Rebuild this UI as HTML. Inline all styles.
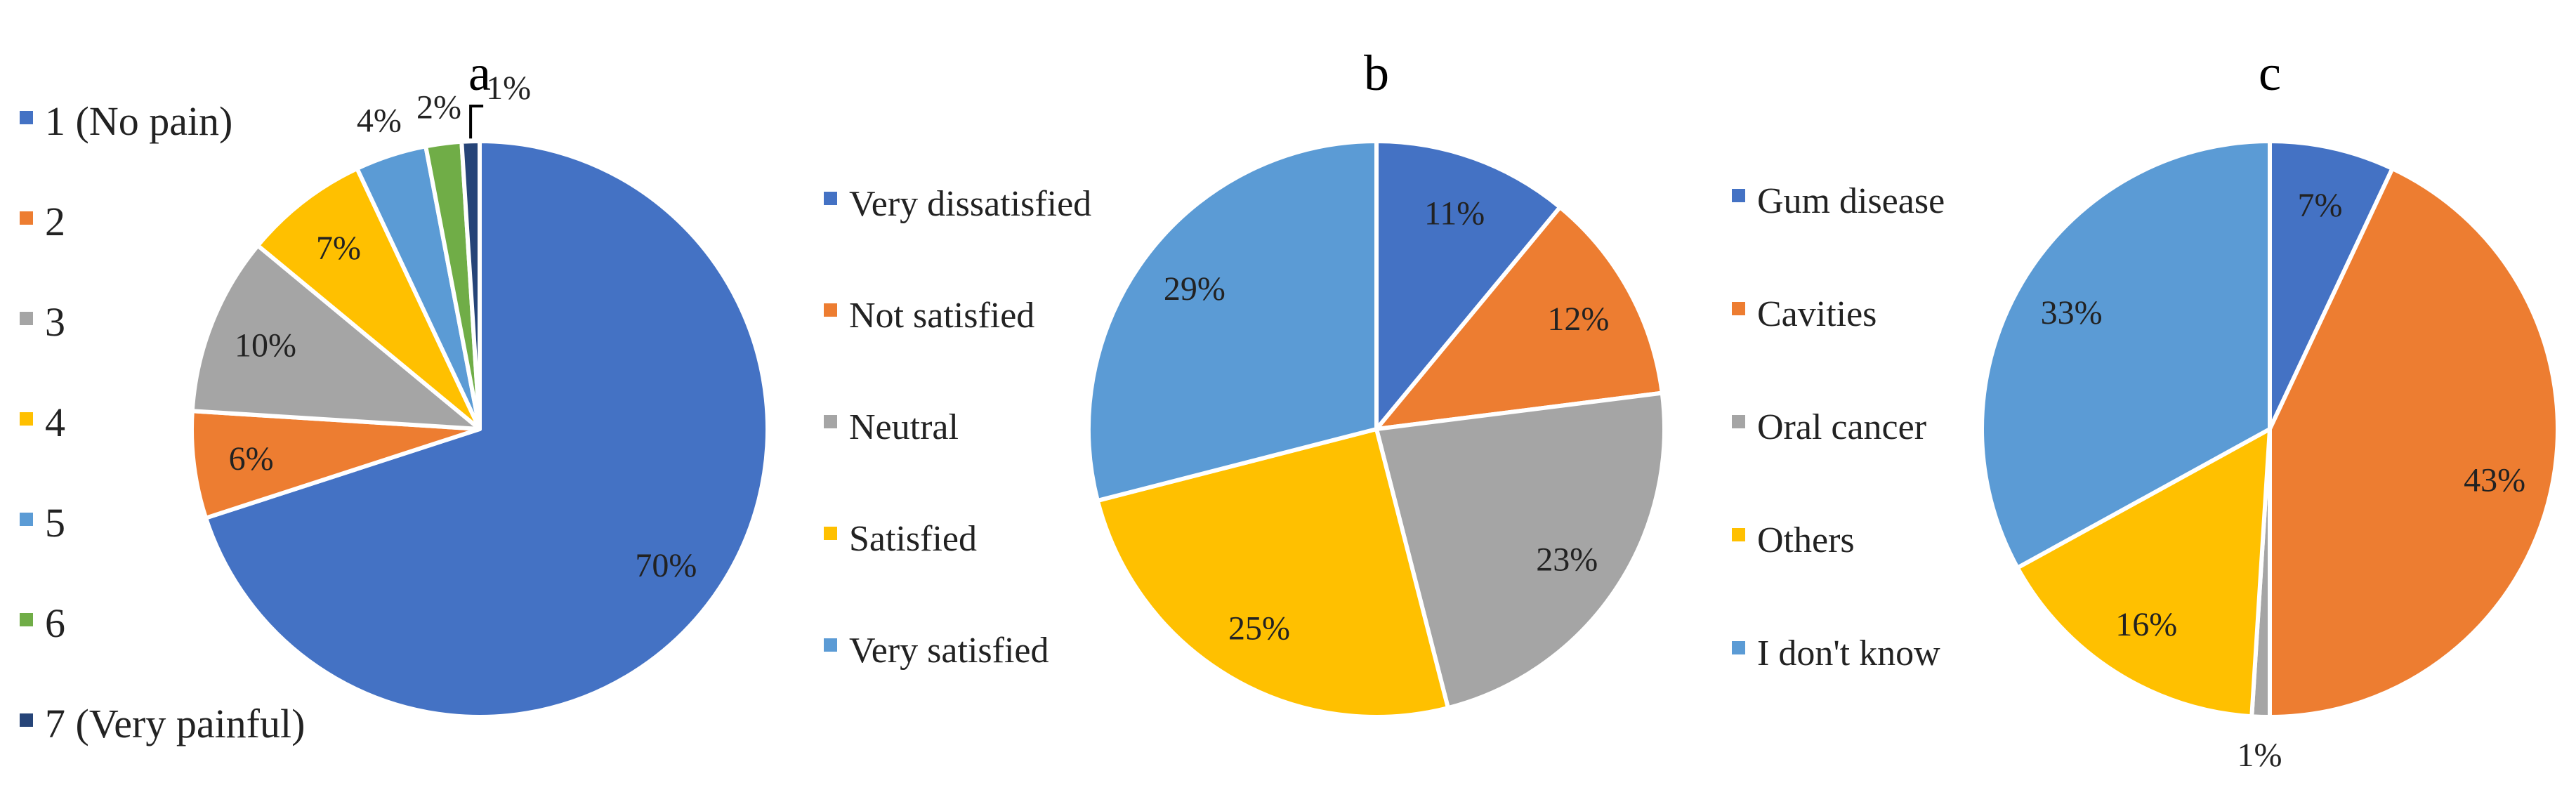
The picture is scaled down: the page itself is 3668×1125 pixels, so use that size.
<!DOCTYPE html>
<html><head><meta charset="utf-8"><style>
html,body{margin:0;padding:0;background:#fff;}
svg{display:block;font-family:"Liberation Serif",serif;}
</style></head><body>
<svg id="chart" width="3668" height="1125" viewBox="0 0 3668 1125"></svg>
<script>
const catsA=["1 (No pain)","2","3","4","5","6","7 (Very painful)"];
const valsA=[70,6,10,7,4,2,1];
const catsB=["Very dissatisfied","Not satisfied","Neutral","Satisfied","Very satisfied"];
const valsB=[11,12,23,25,29];
const catsC=["Gum disease","Cavities","Oral cancer","Others","I don't know"];
const valsC=[7,43,1,16,33];
const colA=["#4472C4","#ED7D31","#A5A5A5","#FFC000","#5B9BD5","#70AD47","#264478"];
const colB=["#4472C4","#ED7D31","#A5A5A5","#FFC000","#5B9BD5"];
const NS="http://www.w3.org/2000/svg";
const svg=document.getElementById('chart');
function mk(tag,attrs,parent){const e=document.createElementNS(NS,tag);for(const k in attrs)e.setAttribute(k,attrs[k]);(parent||svg).appendChild(e);return e;}
function pt(cx,cy,r,a){const t=a*Math.PI/180;return [cx+r*Math.sin(t),cy-r*Math.cos(t)];}
function pie(id,title,cats,vals,cols,cx,cy,r,legX,legY0,legStep,outside,legFont){
  const g=mk('g',{});
  
  
  const tt=mk('text',{x:cx,y:128,'font-size':72,'text-anchor':'middle',fill:'#000'},g);
  tt.textContent=title;
  
  
  const total=vals.reduce((a,b)=>a+b,0);
  let a0=0;
  vals.forEach((v,i)=>{
    const a1=a0+v/total*360;
    const p0=pt(cx,cy,r,a0),p1=pt(cx,cy,r,a1);
    const large=(a1-a0)>180?1:0;
    const p=mk('path',{d:`M${cx},${cy} L${p0[0]},${p0[1]} A${r},${r} 0 ${large} 1 ${p1[0]},${p1[1]} Z`,fill:cols[i],stroke:'#fff','stroke-width':6,'stroke-linejoin':'round'},g);
    
    
    const mid=(a0+a1)/2;
    const out=outside.indexOf(i)>=0;
    let lp=pt(cx,cy,r*(out?1.13:0.8),mid);
    const lbl=mk('text',{x:lp[0],y:lp[1]+17,'font-size':48,'text-anchor':'middle',fill:'#222'},g);
    lbl.textContent=v+'%';
    if(out && id==='a' && i===vals.length-1){
      const e=pt(cx,cy,r,mid);
      mk('polyline',{points:`${e[0]},${e[1]-4} ${e[0]},${cy-r-50} ${e[0]+18},${cy-r-50}`,fill:'none',stroke:'#000','stroke-width':4},g);
      lbl.setAttribute('x',e[0]+54);lbl.setAttribute('y',cy-r-60);
    }
    
    
    a0=a1;
  });
  cats.forEach((c,i)=>{
    const y=legY0+i*legStep;
    const lg=mk('g',{},g);
    
    
    mk('rect',{x:legX,y:y-17,width:19,height:19,fill:cols[i]},lg);
    const t=mk('text',{x:legX+36,y:y+17,'font-size':legFont,fill:'#222'},lg);
    t.textContent=c;
  });
}
pie('a','a',catsA,valsA,colA,683,611,410,28,175,143,[4,5,6],58);
pie('b','b',catsB,valsB,colB,1960,611,410,1173,290,159,[],52);
pie('c','c',catsC,valsC,colB,3232,611,410,2466,286,161,[2],52);
</script>
</body></html>
